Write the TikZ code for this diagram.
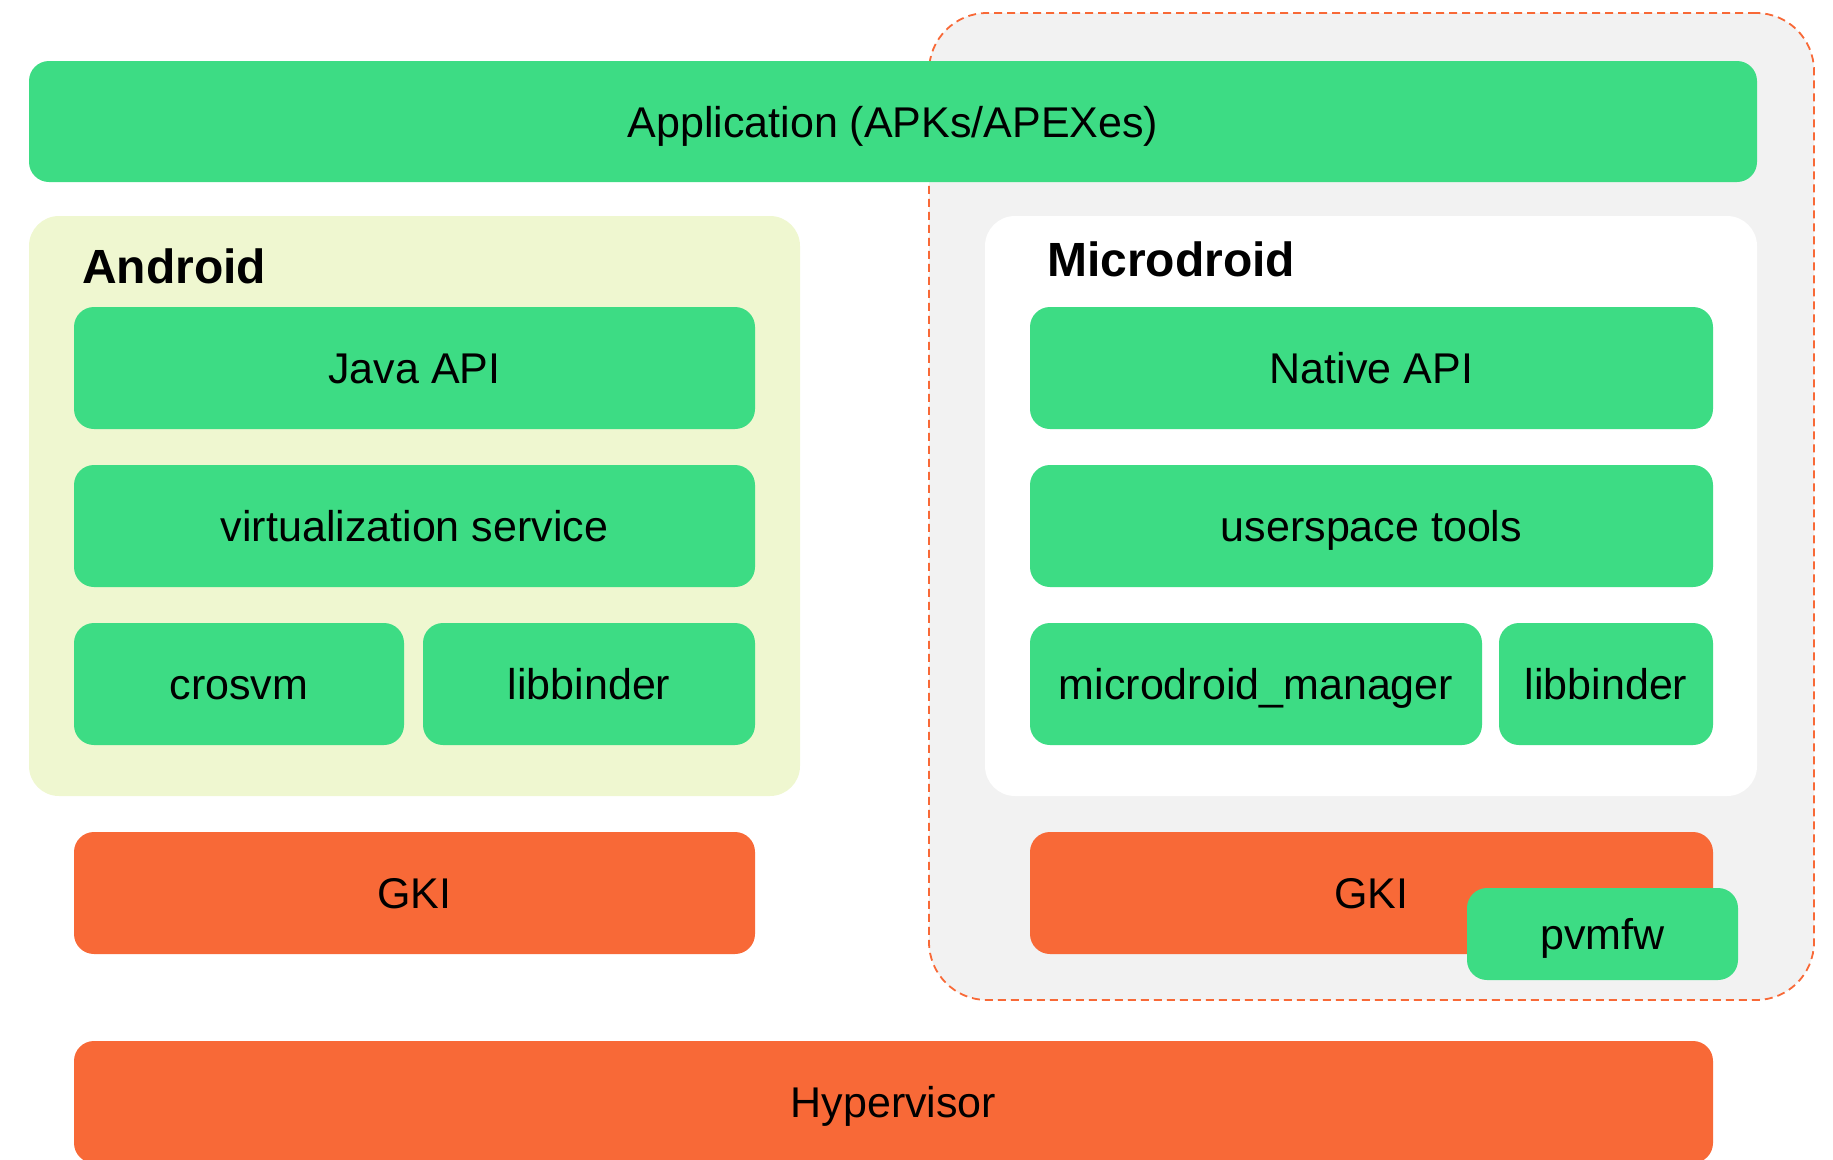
\documentclass[tikz,border=0pt]{standalone}
\usepackage{fontspec}
\setmainfont{Liberation Sans}
\definecolor{agreen}{HTML}{3DDC84}
\definecolor{aorange}{HTML}{F86937}
\definecolor{ayellow}{HTML}{EFF7D0}
\definecolor{agray}{HTML}{F2F2F2}
\tikzset{
  box/.style={rectangle, rounded corners=20pt, inner sep=0pt, font=\fontsize{43}{50}\selectfont, text=black, text height=31pt, text depth=0pt},
  gbox/.style={box, fill=agreen},
  obox/.style={box, fill=aorange},
  panel/.style={rectangle, rounded corners=30pt, inner sep=0pt},
  title/.style={font=\bfseries\fontsize{48}{56}\selectfont, anchor=base west, inner sep=0pt},
}
\begin{document}
\begin{tikzpicture}[x=1pt,y=-1pt]
\useasboundingbox (0,0) rectangle (1833,1159);
\clip (0,0) rectangle (1833,1159);
% dashed VM region
\node[panel, rounded corners=58pt, fill=agray, draw=aorange, line width=1.8pt, dash pattern=on 8pt off 5pt, minimum width=885pt, minimum height=987pt] (vm) at (1371.5,506.5) {};
% application
\node[gbox, minimum width=1728pt, minimum height=121pt] (app) at (893,121.5) {Application (APKs/APEXes)};
% panels
\node[panel, fill=ayellow, minimum width=771pt, minimum height=580pt] (android) at (414.5,506) {};
\node[panel, fill=white, minimum width=772pt, minimum height=580pt] (micro) at (1371,506) {};
\node[title] (androidt) at (82,283) {Android};
\node[title] (microt) at (1047,276) {Microdroid};
% android stack
\node[gbox, minimum width=681pt, minimum height=122pt] (java) at (414.5,368) {Java API};
\node[gbox, minimum width=681pt, minimum height=122pt] (virt) at (414.5,526) {virtualization service};
\node[gbox, minimum width=330pt, minimum height=122pt] (crosvm) at (239,684) {crosvm};
\node[gbox, minimum width=332pt, minimum height=122pt] (libbA) at (589,684) {libbinder};
% microdroid stack
\node[gbox, minimum width=683pt, minimum height=122pt] (native) at (1371.5,368) {Native API};
\node[gbox, minimum width=683pt, minimum height=122pt] (user) at (1371.5,526) {userspace tools};
\node[gbox, minimum width=452pt, minimum height=122pt] (mgr) at (1256,684) {microdroid\_manager};
\node[gbox, minimum width=214pt, minimum height=122pt] (libbM) at (1606,684) {libbinder};
% kernels
\node[obox, minimum width=681pt, minimum height=122pt] (gkiA) at (414.5,893) {GKI};
\node[obox, minimum width=683pt, minimum height=122pt] (gkiM) at (1371.5,893) {GKI};
\node[gbox, minimum width=271pt, minimum height=92pt] (pvmfw) at (1602.5,934) {pvmfw};
% hypervisor
\node[obox, minimum width=1639pt, minimum height=122pt] (hyp) at (893.5,1102) {Hypervisor};
\end{tikzpicture}
\end{document}
